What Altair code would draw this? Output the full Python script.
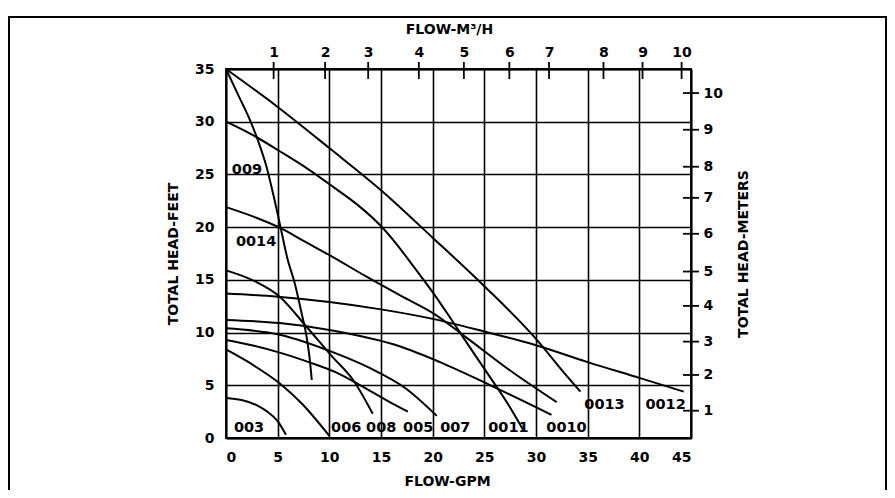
import altair as alt
import pandas as pd

# ---------------- data ----------------
curve_names = ["003", "005", "006", "007", "008", "009", "0010", "0011", "0012", "0013", "0014"]

gpm_003 = [0, 1.5, 3, 4, 5, 5.8]
ft_003 = [3.8, 3.6, 3.1, 2.5, 1.6, 0.3]

gpm_005 = [0, 2.5, 5.2, 8, 10.7, 13, 15.5, 17.6]
ft_005 = [9.3, 8.8, 8.1, 7.2, 6.2, 5.0, 3.6, 2.5]

gpm_006 = [0, 2.5, 5.3, 7.4, 10]
ft_006 = [8.4, 7.0, 5.1, 3.2, 0.2]

gpm_007 = [0, 5.2, 10.7, 14, 17.4, 20.4]
ft_007 = [10.4, 9.8, 8.0, 6.6, 4.7, 2.1]

gpm_008 = [0, 2.5, 5.2, 7.75, 10.3, 12.3, 14.2]
ft_008 = [15.9, 15.0, 13.4, 10.6, 7.7, 5.5, 2.3]

gpm_009 = [0, 1.2, 2.3, 3.1, 3.9, 4.6, 5.3, 5.9, 6.7, 7.3, 7.8, 8.1, 8.3]
ft_009 = [35, 32.5, 30.2, 28.2, 25.8, 23, 19.9, 17.2, 14.5, 11.9, 9.6, 7.5, 5.5]

gpm_0010 = [0, 5.2, 10.3, 16.8, 20.7, 25.6, 31.5]
ft_0010 = [11.2, 10.9, 10.2, 8.7, 7.2, 5.0, 2.2]

gpm_0011 = [0, 2.65, 5.2, 7.8, 10.4, 13, 14.9, 16.5, 18.2, 20.1, 21.7, 23.6, 25.6, 27.3, 28.8]
ft_0011 = [30, 28.7, 27.2, 25.6, 23.8, 21.9, 20.2, 18.4, 16.2, 13.7, 11.4, 8.6, 5.7, 3.2, 0.7]

gpm_0012 = [0, 5, 10, 15, 20, 25, 30, 35, 40, 44.3]
ft_0012 = [13.7, 13.4, 12.9, 12.2, 11.3, 10.1, 8.8, 7.2, 5.7, 4.4]

gpm_0013 = [0, 5, 10, 15, 20, 25, 30, 32.7, 34.3]
ft_0013 = [35, 31.4, 27.5, 23.5, 19.0, 14.4, 9.4, 6.2, 4.4]

gpm_0014 = [0, 2.65, 5.3, 7.5, 10.1, 13.6, 16.9, 20.1, 23.3, 27.5, 32]
ft_0014 = [21.9, 21, 19.9, 18.7, 17.3, 15.3, 13.5, 11.8, 9.5, 6.4, 3.4]

gpm_lists = [gpm_003, gpm_005, gpm_006, gpm_007, gpm_008, gpm_009,
             gpm_0010, gpm_0011, gpm_0012, gpm_0013, gpm_0014]
ft_lists = [ft_003, ft_005, ft_006, ft_007, ft_008, ft_009,
            ft_0010, ft_0011, ft_0012, ft_0013, ft_0014]

# curve labels
label_text = ["003", "006", "008", "005", "007", "0011", "0010", "0013", "0012", "009", "0014"]
label_gpm = [2.23, 11.63, 15.02, 18.6, 22.19, 27.33, 32.95, 36.63, 42.54, 2.03, 2.91]
label_ft = [0.95, 0.95, 0.95, 0.95, 0.95, 0.95, 0.95, 3.13, 3.13, 25.44, 18.61]

# secondary axes (positions as drawn in the reference)
top_tick_labels = ["1", "2", "3", "4", "5", "6", "7", "8", "9", "10"]
top_tick_gpm = [4.61, 9.59, 13.76, 18.66, 23.02, 27.42, 31.26, 36.53, 40.31, 44.09]
right_tick_labels = ["1", "2", "3", "4", "5", "6", "7", "8", "9", "10"]
right_tick_ft = [2.59, 5.98, 9.14, 12.53, 15.79, 19.37, 22.78, 25.73, 29.24, 32.72]

x_ticks = [0, 5, 10, 15, 20, 25, 30, 35, 40, 45]
y_ticks = [0, 5, 10, 15, 20, 25, 30, 35]

# ---------------- build ----------------
W, H = 465, 369
FONT = "DejaVu Sans"

rows = []
for name, gx, fy in zip(curve_names, gpm_lists, ft_lists):
    for g, f in zip(gx, fy):
        rows.append({"pump": name, "gpm": g, "ft": f})
curves_df = pd.DataFrame(rows)
labels_df = pd.DataFrame({"text": label_text, "gpm": label_gpm, "ft": label_ft})
top_df = pd.DataFrame({"gpm": top_tick_gpm, "lab": top_tick_labels})
right_df = pd.DataFrame({"ft": right_tick_ft, "lab": right_tick_labels})


def label_expr(values, labels):
    expr = "''"
    for v, l in zip(values, labels):
        expr = f"abs(datum.value - {v}) < 0.001 ? '{l}' : ({expr})"
    return expr


xs = alt.Scale(domain=[0, 45], nice=False, zero=False)
ys = alt.Scale(domain=[0, 35], nice=False, zero=False)

lines = alt.Chart(curves_df).mark_line(
    color="black", strokeWidth=2, interpolate="monotone"
).encode(
    x=alt.X("gpm:Q", scale=xs, axis=alt.Axis(
        orient="bottom", values=x_ticks, title="FLOW-GPM", grid=True, ticks=False,
        labelPadding=12, titlePadding=10, titleX=221)),
    y=alt.Y("ft:Q", scale=ys, axis=alt.Axis(
        orient="left", values=y_ticks, title="TOTAL HEAD-FEET", grid=True, ticks=False,
        labelPadding=12, titlePadding=14)),
    detail="pump:N",
)

labels = alt.Chart(labels_df).mark_text(
    font=FONT, fontWeight="bold", fontSize=14.5, color="black",
    align="center", baseline="middle"
).encode(
    x=alt.X("gpm:Q", scale=xs, axis=None),
    y=alt.Y("ft:Q", scale=ys, axis=None),
    text="text:N",
)

top = alt.Chart(top_df).mark_rule(color="black", strokeWidth=1.8).encode(
    x=alt.X("gpm:Q", scale=xs, axis=alt.Axis(
        orient="top", values=top_tick_gpm,
        labelExpr=label_expr(top_tick_gpm, top_tick_labels),
        title="FLOW-M³/H", grid=False, ticks=False,
        labelPadding=10, titlePadding=9, titleX=223)),
    y=alt.value(-7),
    y2=alt.value(10),
)

right = alt.Chart(right_df).mark_rule(color="black", strokeWidth=1.8).encode(
    y=alt.Y("ft:Q", scale=ys, axis=alt.Axis(
        orient="right", values=right_tick_ft,
        labelExpr=label_expr(right_tick_ft, right_tick_labels),
        title="TOTAL HEAD-METERS", grid=False, ticks=False,
        labelPadding=12, titlePadding=28, titleAngle=270)),
    x=alt.value(W - 8),
    x2=alt.value(W + 8),
)

frame = alt.Chart(pd.DataFrame({"a": [0]})).mark_rect(
    fill="transparent", stroke="black", strokeWidth=2
).encode(
    x=alt.value(-217), x2=alt.value(660), y=alt.value(-52), y2=alt.value(440)
)

chart = alt.layer(lines, labels, top, right, frame).resolve_axis(
    x="independent", y="independent"
).properties(
    width=W, height=H,
    padding={"left": 218, "top": 61, "right": 196, "bottom": 52},
    autosize=alt.AutoSizeParams(type="none"),
    background="white",
).configure_axis(
    domainColor="black", domainWidth=1.8,
    gridColor="black", gridWidth=1.6, gridOpacity=1,
    labelFont=FONT, labelFontWeight="bold", labelFontSize=14, labelColor="black",
    titleFont=FONT, titleFontWeight="bold", titleFontSize=14, titleColor="black",
).configure_view(stroke="black", strokeWidth=1.8)

chart.save("out.html", embed_options={"renderer": "svg", "actions": False})
